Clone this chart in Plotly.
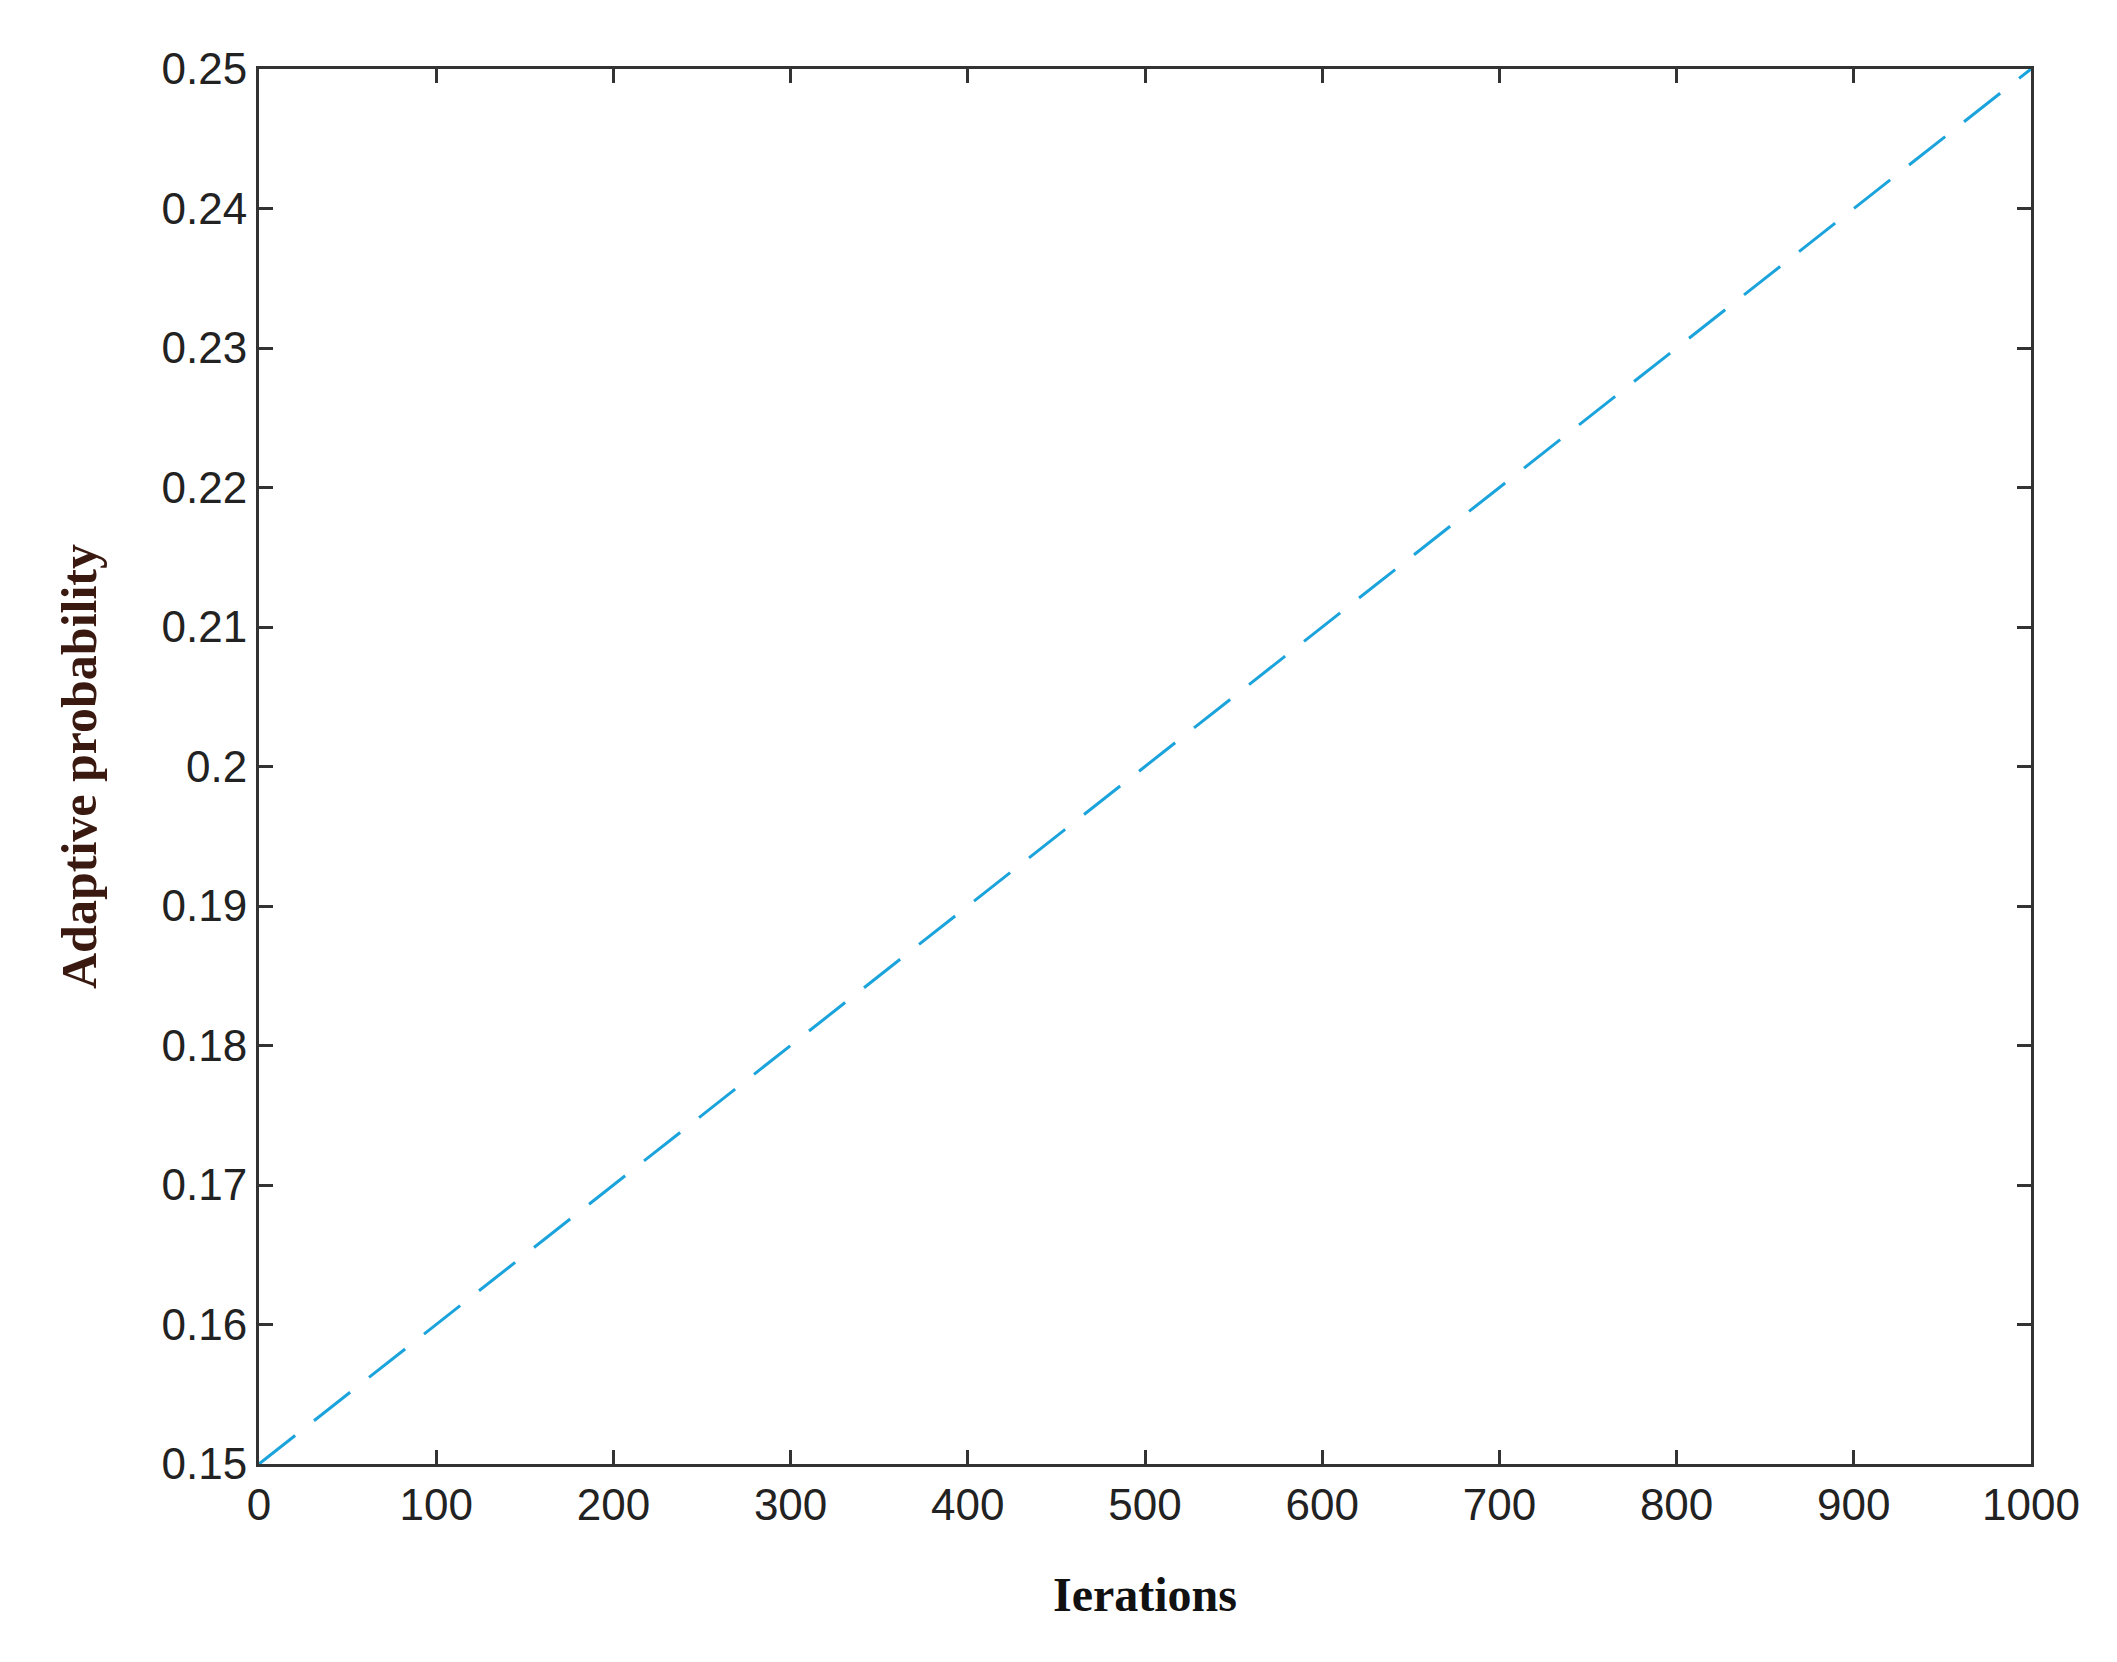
import plotly.graph_objects as go

# line endpoints
iterations = [0, 1000]
probability = [0.15, 0.25]

x_ticks = [0, 100, 200, 300, 400, 500, 600, 700, 800, 900, 1000]
y_ticks = [0.15, 0.16, 0.17, 0.18, 0.19, 0.2, 0.21, 0.22, 0.23, 0.24, 0.25]
y_labels = ["0.15", "0.16", "0.17", "0.18", "0.19", "0.2", "0.21", "0.22", "0.23", "0.24", "0.25"]

fig = go.Figure()
fig.add_trace(go.Scatter(x=iterations, y=probability, mode="lines",
                         line=dict(color="#1ba3dc", width=3, dash="46px,24px"),
                         showlegend=False))

axis_common = dict(showline=True, linecolor="#333333", linewidth=3, mirror="ticks",
                   ticks="inside", ticklen=14, tickwidth=3, tickcolor="#333333",
                   showgrid=False, zeroline=False,
                   tickfont=dict(family="Liberation Sans", size=44, color="#222222"))

fig.update_xaxes(range=[0, 1000], tickvals=x_ticks,
                 title=dict(text="<b>Ierations</b>", standoff=50,
                            font=dict(family="Liberation Serif", size=48, color="#111111")),
                 **axis_common)
fig.update_yaxes(range=[0.15, 0.25], tickvals=y_ticks, ticktext=y_labels,
                 title=dict(text="<b>Adaptive probability</b>", standoff=50,
                            font=dict(family="Liberation Serif", size=50, color="#3a1a10")),
                 **axis_common)

fig.update_layout(width=2117, height=1662, plot_bgcolor="white", paper_bgcolor="white",
                  margin=dict(l=251, r=94, t=61, b=206))

fig.write_html("out.html")
